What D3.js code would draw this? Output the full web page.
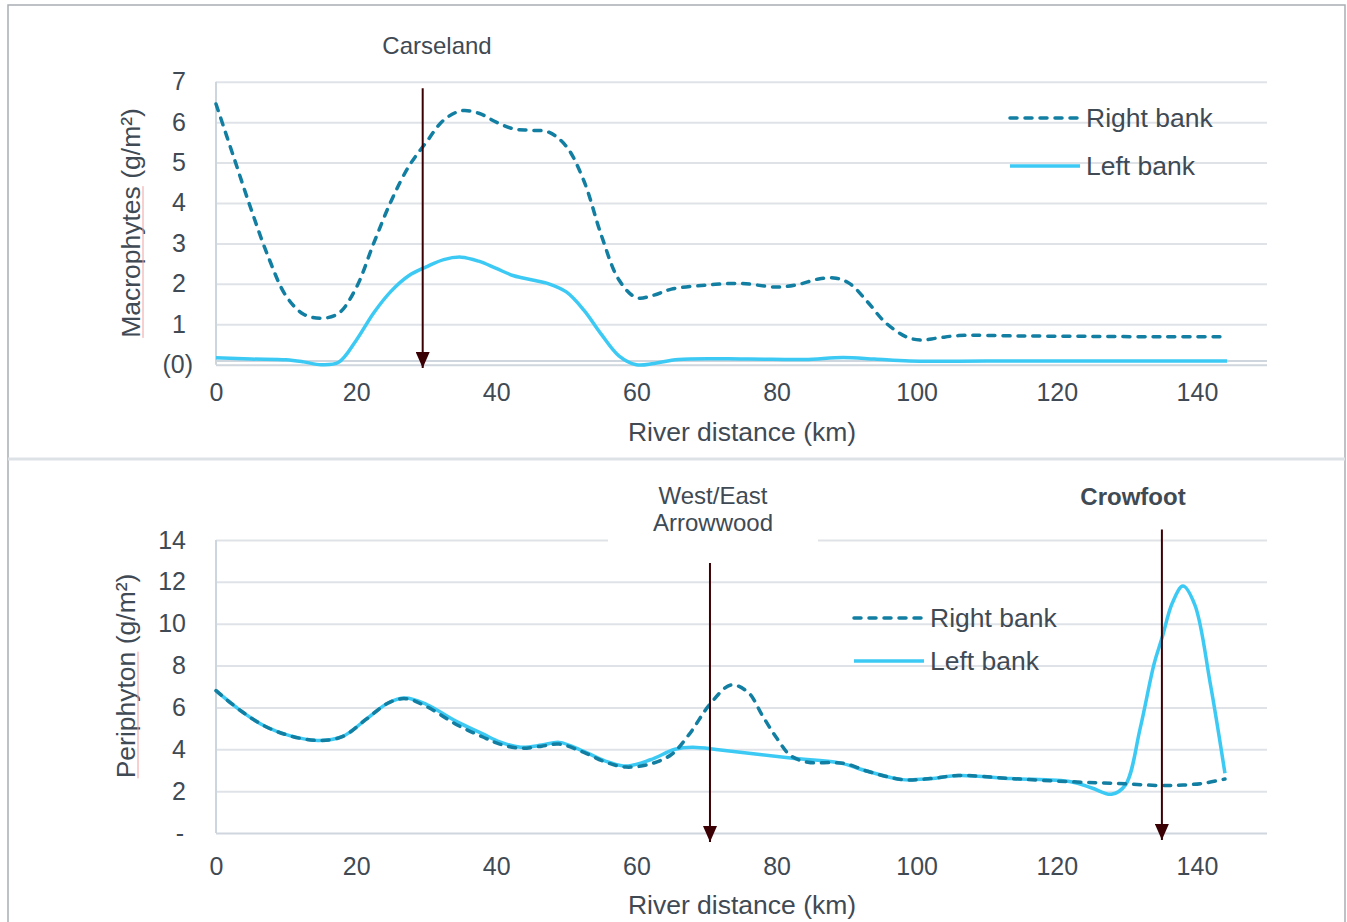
<!DOCTYPE html>
<html>
<head>
<meta charset="utf-8">
<script src="https://cdn.jsdelivr.net/npm/d3@7"></script>
<style>
  body { margin: 0; background: #fff; }
  text { font-family: "Liberation Sans", Arial, sans-serif; fill: #3f4a54; }
</style>
</head>
<body>
<div id="chart"></div>
<script>
// axis ticks
const xTicks = [0, 20, 40, 60, 80, 100, 120, 140];
const macroTicks = [0, 1, 2, 3, 4, 5, 6, 7];
const periTicks = [0, 2, 4, 6, 8, 10, 12, 14];

// Macrophytes (g/m2) - right bank
const macroRightKm = [0, 2.5, 5, 7.5, 10, 12.5, 15, 17.5, 20, 22.5, 25, 27.5, 30, 32.5, 35, 37.5, 40, 42.5, 45, 47.5, 50, 52.5, 55, 57.5, 60, 62.5, 65, 70, 75, 80, 83, 86, 88.5, 90.5, 93, 95.5, 98.5, 100.5, 103, 106, 115, 125, 135, 143.5];
const macroRight = [6.45, 5.15, 3.85, 2.65, 1.7, 1.25, 1.15, 1.27, 1.9, 3.0, 4.05, 4.9, 5.5, 6.05, 6.28, 6.22, 6.0, 5.83, 5.8, 5.75, 5.4, 4.55, 3.2, 2.1, 1.66, 1.72, 1.87, 1.97, 2.01, 1.92, 1.98, 2.12, 2.14, 2.0, 1.55, 1.05, 0.69, 0.61, 0.66, 0.72, 0.71, 0.7, 0.69, 0.69];
// Macrophytes - left bank
const macroLeftKm = [0, 5, 10, 12.5, 15, 17.5, 20, 22.5, 25, 27.5, 30, 32.5, 35, 37.5, 40, 42.5, 45, 47.5, 50, 52.5, 55, 57.5, 60, 62.5, 66, 76, 84, 89.5, 94, 99, 110, 125, 144.3];
const macroLeft = [0.17, 0.14, 0.12, 0.07, 0.0, 0.06, 0.6, 1.28, 1.82, 2.2, 2.42, 2.6, 2.66, 2.56, 2.38, 2.2, 2.1, 2.0, 1.8, 1.35, 0.75, 0.22, 0.0, 0.03, 0.13, 0.14, 0.13, 0.18, 0.14, 0.09, 0.09, 0.09, 0.09];

// Periphyton (g/m2) - right bank
const periRightKm = [0, 3.5, 7, 10.5, 14.5, 18, 21.5, 24.5, 27, 30, 34.5, 38, 40.5, 43.5, 46.5, 49, 52.5, 55.5, 58.5, 62, 65, 67.5, 70.5, 73.5, 76, 78, 80, 82, 84.5, 88, 90, 93, 98, 102, 106, 113.5, 122, 128.5, 134.8, 138, 141, 144];
const periRight = [6.8, 5.85, 5.1, 4.65, 4.42, 4.6, 5.45, 6.2, 6.42, 6.05, 5.15, 4.6, 4.25, 4.05, 4.15, 4.25, 3.85, 3.4, 3.15, 3.3, 3.75, 4.7, 6.15, 7.07, 6.7, 5.6, 4.55, 3.7, 3.38, 3.36, 3.3, 2.95, 2.55, 2.6, 2.75, 2.6, 2.45, 2.37, 2.27, 2.29, 2.38, 2.58];
// Periphyton - left bank
const periLeftKm = [0, 3.5, 7, 10.5, 14.5, 18, 21.5, 24.5, 27, 30, 34.5, 38, 40.5, 43.5, 46.5, 49, 52.5, 55.5, 58.5, 62, 65.5, 68, 72, 82, 89, 93, 98, 102, 106, 113.5, 122, 125, 127.8, 129.8, 131.9, 133.9, 135, 136.5, 138, 139.7, 141.9, 144];
const periLeft = [6.8, 5.85, 5.1, 4.65, 4.42, 4.6, 5.45, 6.2, 6.45, 6.15, 5.3, 4.75, 4.35, 4.1, 4.2, 4.33, 3.9, 3.45, 3.2, 3.5, 4.0, 4.1, 3.97, 3.58, 3.35, 2.95, 2.55, 2.6, 2.75, 2.6, 2.45, 2.15, 1.85, 2.3, 5.0, 8.1, 9.3, 11.0, 11.8, 10.9, 7.15, 2.85];

const rightColor = '#127ea1';
const leftColor = '#3ccaf4';
const gridColor = '#dfe3e8';
const arrowColor = '#3a0004';

const svg = d3.select('#chart')
  .append('svg')
  .attr('width', 1347)
  .attr('height', 922);

svg.append('defs').append('marker')
  .attr('id', 'head')
  .attr('viewBox', '0 0 16 14')
  .attr('refX', 16).attr('refY', 7)
  .attr('markerWidth', 16).attr('markerHeight', 14)
  .attr('markerUnits', 'userSpaceOnUse')
  .attr('orient', 'auto')
  .append('path')
  .attr('d', 'M0,0 L16,7 L0,14 Z')
  .attr('fill', arrowColor);

// outer frame + divider between the two panels
svg.append('rect')
  .attr('x', 8).attr('y', 5)
  .attr('width', 1337).attr('height', 940)
  .attr('fill', 'none').attr('stroke', '#a9adb2').attr('stroke-width', 1.5);
svg.append('line')
  .attr('x1', 8).attr('x2', 1345).attr('y1', 459).attr('y2', 459)
  .attr('stroke', '#dde2e7').attr('stroke-width', 3);

const x = d3.scaleLinear().domain([0, 150]).range([216, 1267]);

function drawPanel(p) {
  const g = svg.append('g');
  const y = p.y;

  // gridlines + y labels
  const yAxis = g.append('g')
    .attr('class', 'y-axis')
    .attr('transform', `translate(${x(0)},0)`)
    .call(d3.axisLeft(y).tickValues(p.ticks).tickSize(-(x(150) - x(0))).tickPadding(30).tickFormat(p.fmt));
  yAxis.select('.domain').remove();
  yAxis.selectAll('line').attr('stroke', gridColor).attr('stroke-width', 2);
  yAxis.selectAll('text').attr('font-size', 25).style('fill', '#3f4a54');
  yAxis.selectAll('.tick').filter(d => d === 0).select('line').attr('stroke', '#cfd6dd');
  yAxis.selectAll('.tick').filter(d => d === 0).select('text').attr('dx', p.zeroDx);

  if (p.extraGrid != null) {
    g.append('line')
      .attr('x1', x(0)).attr('x2', x(150))
      .attr('y1', y(p.extraGrid)).attr('y2', y(p.extraGrid))
      .attr('stroke', '#cfd6dd').attr('stroke-width', 2);
  }

  // left axis line
  g.append('line')
    .attr('x1', x(0)).attr('x2', x(0))
    .attr('y1', y.range()[1]).attr('y2', y.range()[0])
    .attr('stroke', '#cdd5dd').attr('stroke-width', 2);

  // x labels
  const xAxis = g.append('g')
    .attr('class', 'x-axis')
    .attr('transform', `translate(0,${y(0)})`)
    .call(d3.axisBottom(x).tickValues(xTicks).tickSize(0).tickPadding(p.xPad));
  xAxis.select('.domain').remove();
  xAxis.selectAll('text').attr('font-size', 25).style('fill', '#3f4a54');

  g.append('text')
    .attr('x', 742).attr('y', p.xTitleY)
    .attr('text-anchor', 'middle').attr('font-size', 26.5)
    .text('River distance (km)');

  const yt = g.append('text')
    .attr('transform', `translate(${p.yTitleX},${p.yTitleY}) rotate(-90)`)
    .attr('text-anchor', 'middle').attr('font-size', 26.5)
    .text(p.yTitle);

  // spell-check underline under the first word
  const bb = yt.node().getBBox();
  const w = yt.node().getSubStringLength(0, p.yTitle.indexOf(' '));
  g.append('line')
    .attr('x1', p.yTitleX + 3).attr('x2', p.yTitleX + 3)
    .attr('y1', p.yTitleY + bb.width / 2).attr('y2', p.yTitleY + bb.width / 2 - w)
    .attr('stroke', '#f2a0a0').attr('stroke-width', 1);

  // series
  const line = (km, vals) => d3.line()
    .x((d, i) => x(km[i]))
    .y(d => y(d))
    .curve(d3.curveCatmullRom.alpha(0.5))(vals);

  g.append('path')
    .attr('d', line(p.leftKm, p.left))
    .attr('fill', 'none').attr('stroke', leftColor).attr('stroke-width', 3.5);
  g.append('path')
    .attr('d', line(p.rightKm, p.right))
    .attr('fill', 'none').attr('stroke', rightColor).attr('stroke-width', 3.5)
    .attr('stroke-dasharray', '7,8').attr('stroke-linecap', 'round');

  // legend
  const lg = g.append('g').attr('transform', `translate(${p.legend[0]},${p.legend[1]})`);
  lg.append('line').attr('x1', 0).attr('x2', 70).attr('y1', 0).attr('y2', 0)
    .attr('stroke', rightColor).attr('stroke-width', 3.5)
    .attr('stroke-dasharray', '7,8').attr('stroke-linecap', 'round');
  lg.append('text').attr('x', 76).attr('y', 9).attr('font-size', 26.5).text('Right bank');
  lg.append('line').attr('x1', 0).attr('x2', 70).attr('y1', p.legendGap).attr('y2', p.legendGap)
    .attr('stroke', leftColor).attr('stroke-width', 3.5);
  lg.append('text').attr('x', 76).attr('y', p.legendGap + 9).attr('font-size', 26.5).text('Left bank');

  return g;
}

function arrow(g, km, y, from, to) {
  g.append('line')
    .attr('x1', x(km)).attr('x2', x(km))
    .attr('y1', y(from)).attr('y2', y(to))
    .attr('stroke', arrowColor).attr('stroke-width', 2)
    .attr('marker-end', 'url(#head)');
}

// top panel: macrophytes
const yTop = d3.scaleLinear().domain([0, 7]).range([364.7, 81.7]);
const topPanel = drawPanel({
  y: yTop, ticks: macroTicks,
  fmt: d => d === 0 ? '(0)' : d,
  zeroDx: 7,
  extraGrid: 0.09,
  xPad: 19, xTitleY: 441,
  yTitle: 'Macrophytes (g/m²)', yTitleX: 140, yTitleY: 223,
  rightKm: macroRightKm, right: macroRight,
  leftKm: macroLeftKm, left: macroLeft,
  legend: [1010, 118], legendGap: 48
});
arrow(topPanel, 29.5, yTop, 6.84, -0.08);
topPanel.append('text').attr('x', 437).attr('y', 54).attr('text-anchor', 'middle')
  .attr('font-size', 24).text('Carseland');

// bottom panel: periphyton
const yBot = d3.scaleLinear().domain([0, 14]).range([833, 540]);
const botPanel = drawPanel({
  y: yBot, ticks: periTicks,
  fmt: d => d === 0 ? '-' : d,
  zeroDx: -2,
  extraGrid: null,
  xPad: 24, xTitleY: 914,
  yTitle: 'Periphyton (g/m²)', yTitleX: 135, yTitleY: 676,
  rightKm: periRightKm, right: periRight,
  leftKm: periLeftKm, left: periLeft,
  legend: [854, 618], legendGap: 43
});

// label box for West/East Arrowwood hides the top gridline
botPanel.append('rect').attr('x', 608).attr('y', 480).attr('width', 210).attr('height', 64).attr('fill', '#fff');
botPanel.append('text').attr('x', 713).attr('y', 504).attr('text-anchor', 'middle').attr('font-size', 24).text('West/East');
botPanel.append('text').attr('x', 713).attr('y', 531).attr('text-anchor', 'middle').attr('font-size', 24).text('Arrowwood');
botPanel.append('text').attr('x', 1133).attr('y', 505).attr('text-anchor', 'middle')
  .attr('font-size', 24).attr('font-weight', 'bold').text('Crowfoot');

arrow(botPanel, 70.5, yBot, 12.9, -0.43);
arrow(botPanel, 135, yBot, 14.5, -0.33);
</script>
</body>
</html>
